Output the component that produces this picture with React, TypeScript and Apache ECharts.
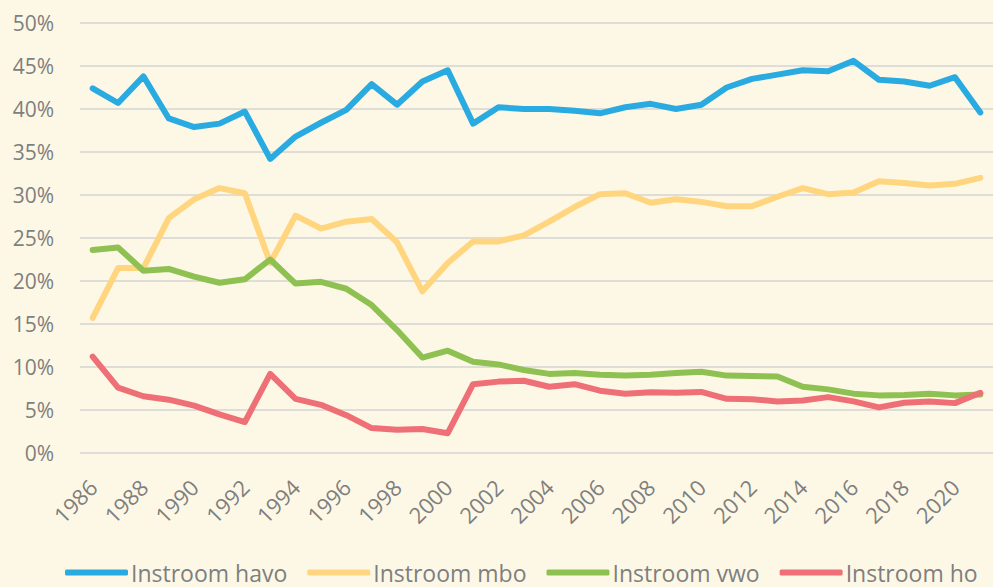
import React, { useEffect, useRef } from "react";
import * as echarts from "echarts";

const years: string[] = [];
for (let y = 1986; y <= 2021; y++) years.push(String(y));

const havo = [42.4, 40.7, 43.8, 38.9, 37.9, 38.3, 39.7, 34.2, 36.8, 38.4, 39.9, 42.9, 40.5, 43.2, 44.5, 38.3, 40.2, 40.0, 40.0, 39.8, 39.5, 40.2, 40.6, 40.0, 40.5, 42.5, 43.5, 44.0, 44.5, 44.4, 45.6, 43.4, 43.2, 42.7, 43.7, 39.6];
const mbo = [15.7, 21.5, 21.5, 27.3, 29.5, 30.8, 30.2, 22.1, 27.6, 26.1, 26.9, 27.2, 24.5, 18.8, 22.1, 24.6, 24.6, 25.3, 26.9, 28.6, 30.1, 30.2, 29.1, 29.5, 29.2, 28.7, 28.7, 29.8, 30.8, 30.1, 30.3, 31.6, 31.4, 31.1, 31.3, 32.0];
const vwo = [23.6, 23.9, 21.2, 21.4, 20.5, 19.8, 20.2, 22.5, 19.7, 19.9, 19.1, 17.2, 14.3, 11.1, 11.9, 10.6, 10.3, 9.65, 9.2, 9.3, 9.1, 9.0, 9.1, 9.3, 9.45, 9.0, 8.95, 8.9, 7.7, 7.4, 6.9, 6.7, 6.75, 6.9, 6.7, 6.8];
const ho = [11.2, 7.6, 6.6, 6.2, 5.5, 4.5, 3.6, 9.2, 6.3, 5.6, 4.4, 2.9, 2.7, 2.8, 2.3, 8.0, 8.3, 8.4, 7.7, 8.0, 7.25, 6.9, 7.05, 7.0, 7.1, 6.3, 6.25, 6.0, 6.1, 6.5, 6.0, 5.3, 5.85, 6.0, 5.8, 7.0];

const seriesNames = ["Instroom havo", "Instroom mbo", "Instroom vwo", "Instroom ho"];
const seriesData = [havo, mbo, vwo, ho];
const colors = ["#29ABE2", "#FFD67F", "#8FC152", "#EE6F76"];

const FONT = "'Open Sans', 'Noto Sans', sans-serif";
const TEXT_COLOR = "#7F7F7F";

export default function App() {
  const ref = useRef<HTMLDivElement>(null);
  useEffect(() => {
    if (!ref.current) return;
    const chart = echarts.init(ref.current, undefined, { renderer: "svg" });
    chart.setOption({
      animation: false,
      backgroundColor: "#FDF8E6",
      color: colors,
      grid: { left: 80, right: -8, top: 23, bottom: 134, containLabel: false },
      legend: {
        left: 60,
        top: 556,
        itemWidth: 63,
        itemHeight: 6,
        itemGap: 20,
        icon: "roundRect",
        textStyle: { fontFamily: FONT, fontSize: 23, color: TEXT_COLOR, padding: [0, 0, 0, -2] },
        data: seriesNames,
      },
      xAxis: {
        type: "category",
        data: years,
        boundaryGap: true,
        axisLine: { show: false },
        axisTick: { show: false },
        axisLabel: {
          interval: 1,
          rotate: 45,
          margin: 30,
          fontFamily: FONT,
          fontSize: 22,
          color: TEXT_COLOR,
        },
      },
      yAxis: {
        type: "value",
        min: 0,
        max: 50,
        interval: 5,
        axisLine: { show: false },
        axisTick: { show: false },
        splitLine: { lineStyle: { color: "#DFDDD8", width: 2 } },
        axisLabel: {
          formatter: "{value}%",
          margin: 26,
          fontFamily: FONT,
          fontSize: 21,
          color: TEXT_COLOR,
        },
      },
      series: seriesNames.map((name, i) => ({
        name,
        type: "line",
        data: seriesData[i],
        showSymbol: false,
        symbol: "none",
        lineStyle: { width: 6, color: colors[i], cap: "round", join: "round" },
        itemStyle: { color: colors[i] },
      })),
    });
    return () => chart.dispose();
  }, []);
  return (
    <div
      ref={ref}
      style={{ position: "absolute", left: 0, top: 0, width: 993, height: 587 }}
    />
  );
}
